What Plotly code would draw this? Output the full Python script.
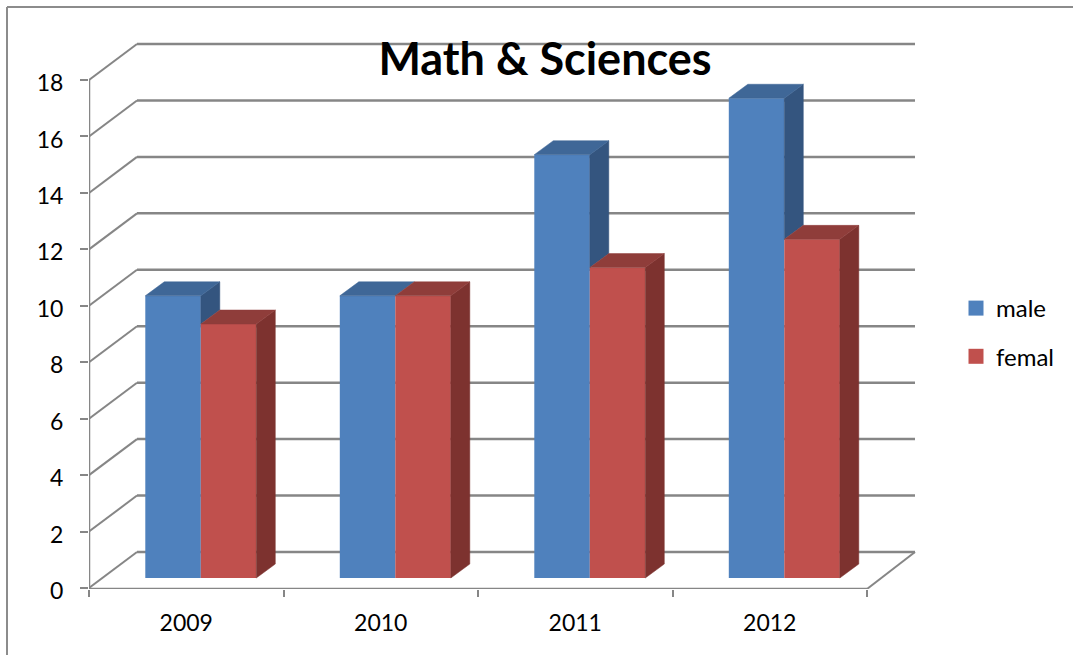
import plotly.graph_objects as go

# ---- data ----
years = ["2009", "2010", "2011", "2012"]
male = [10, 10, 15, 17]
female = [9, 10, 11, 12]
y_ticks = [0, 2, 4, 6, 8, 10, 12, 14, 16, 18]
title = "Math & Sciences"

# ---- colours ----
BLUE, BLUE_TOP, BLUE_SIDE = "#4F81BD", "#3F6797", "#34557F"
RED, RED_TOP, RED_SIDE = "#C0504D", "#8F3D3A", "#7D322F"
GRID = "#868686"
FONT = "Lato, 'Open Sans', sans-serif"
TXT = "#000000"

# ---- layout geometry (pixels on the 1073x655 page) ----
W, H = 1073, 655
PL, PR, PT, PB = 89, 919, 42, 589
PX_X = 194.5          # pixels per category
PX_Y = 28.22          # pixels per y unit
x0, x1 = 0, (PR - PL) / PX_X
y0 = -1 / PX_Y
y1 = (PB - 1 - PT) / PX_Y

WALL_X, WALL_Y = 48 / PX_X, 36 / PX_Y     # depth of the back wall
BAR_DX, BAR_DY = 19 / PX_X, 14 / PX_Y     # depth of a bar
BASE = 10 / PX_Y                          # front face lift of the bars
BAR_W = 55.5 / PX_X
OFF_M = (145.3 - 89) / PX_X - 0.5
OFF_F = OFF_M + BAR_W

centres = [i + 0.5 for i in range(len(years))]
ncat = len(years)

fig = go.Figure()

# ---- walls as shapes below the bars ----
shapes = []
line = dict(color=GRID, width=2)
for t in y_ticks:
    shapes.append(dict(type="line", xref="x", yref="y", layer="below", x0=0, y0=t,
                       x1=WALL_X, y1=t + WALL_Y, line=line))
    shapes.append(dict(type="line", xref="x", yref="y", layer="below", x0=WALL_X, y0=t + WALL_Y,
                       x1=ncat + WALL_X, y1=t + WALL_Y, line=dict(color=GRID, width=2.5)))
shapes.append(dict(type="line", xref="x", yref="y", layer="below", x0=ncat, y0=y0,
                   x1=ncat + WALL_X, y1=WALL_Y, line=line))


def px(x):
    return (x - PL) / (PR - PL)


def py(y):
    return (PB - y) / (PB - PT)


# page frame: left and top edges
frame = dict(color="#8C8C8C", width=2)
shapes.append(dict(type="line", xref="paper", yref="paper", x0=px(7), x1=px(7), y0=py(7), y1=py(H), line=frame))
shapes.append(dict(type="line", xref="paper", yref="paper", x0=px(7), x1=px(W), y0=py(7), y1=py(7), line=frame))

# ---- front faces ----
fig.add_trace(go.Bar(x=centres, y=male, base=BASE, offset=OFF_M, width=BAR_W, name="male",
                     marker=dict(color=BLUE, line=dict(width=0)), showlegend=False))
fig.add_trace(go.Bar(x=centres, y=female, base=BASE, offset=OFF_F, width=BAR_W, name="femal",
                     marker=dict(color=RED, line=dict(width=0)), showlegend=False))


def poly(xs, ys, color):
    fig.add_trace(go.Scatter(x=xs + xs[:1], y=ys + ys[:1], mode="lines", fill="toself",
                             fillcolor=color, line=dict(color=color, width=0.5),
                             hoverinfo="skip", showlegend=False, cliponaxis=False))


# ---- side and top faces, computed from the values ----
for c, m, f in zip(centres, male, female):
    ml = c + OFF_M
    mr = ml + BAR_W
    fr = mr + BAR_W
    mt, ft = m + BASE, f + BASE
    # male side: only the part above the female bar is visible
    if mt > ft:
        poly([mr, mr + BAR_DX, mr + BAR_DX, mr], [mt, mt + BAR_DY, ft + BAR_DY, ft], BLUE_SIDE)
    poly([ml, ml + BAR_DX, mr + BAR_DX, mr], [mt, mt + BAR_DY, mt + BAR_DY, mt], BLUE_TOP)
    poly([fr, fr + BAR_DX, fr + BAR_DX, fr], [ft, ft + BAR_DY, BASE + BAR_DY, BASE], RED_SIDE)
    poly([mr, mr + BAR_DX, fr + BAR_DX, fr], [ft, ft + BAR_DY, ft + BAR_DY, ft], RED_TOP)

# ---- front axis lines ----
axis_line = dict(color=GRID, width=2.5)
fig.add_trace(go.Scatter(x=[0, 0], y=[y0, y_ticks[-1]], mode="lines", line=axis_line,
                         hoverinfo="skip", showlegend=False, cliponaxis=False))
fig.add_trace(go.Scatter(x=[0, ncat], y=[y0, y0], mode="lines", line=axis_line,
                         hoverinfo="skip", showlegend=False, cliponaxis=False))

# ---- legend entries ----
for name, col in (("male", BLUE), ("femal", RED)):
    fig.add_trace(go.Scatter(x=[None], y=[None], mode="markers", name=name, legendgroup=name,
                             marker=dict(symbol="square", size=15, color=col, line=dict(width=0))))

fig.update_layout(
    width=W, height=H, autosize=False,
    margin=dict(l=PL, r=W - PR, t=PT, b=H - PB, pad=0),
    paper_bgcolor="white", plot_bgcolor="white",
    barmode="overlay",
    shapes=shapes,
    font=dict(family=FONT, size=23, color=TXT),
    title=dict(text="<b>" + title + "</b>", x=545 / W, xref="container", xanchor="center",
               y=1 - 59 / H, yref="container", yanchor="middle",
               font=dict(family=FONT, size=45, color=TXT)),
    legend=dict(x=px(956), xanchor="left", y=py(286), yanchor="top", bgcolor="rgba(0,0,0,0)",
                tracegroupgap=14, itemwidth=30, font=dict(size=24)),
    xaxis=dict(range=[x0, x1], tickmode="array", tickvals=centres, ticktext=years, ticks="",
               showgrid=False, zeroline=False, showline=False, ticklabelstandoff=18,
               minor=dict(tickmode="array", tickvals=list(range(ncat + 1)), ticks="outside",
                          ticklen=7, tickwidth=1.5, tickcolor=GRID, showgrid=False)),
    yaxis=dict(range=[y0, y1], tickmode="array", tickvals=y_ticks, ticks="outside", ticklen=8,
               tickwidth=1.5, tickcolor=GRID, showgrid=False, zeroline=False, showline=False,
               ticklabelstandoff=12, ticklabelshift=3),
)

fig.write_html("out.html", config=dict(displayModeBar=False),
               post_script="document.body.style.margin='0';")
